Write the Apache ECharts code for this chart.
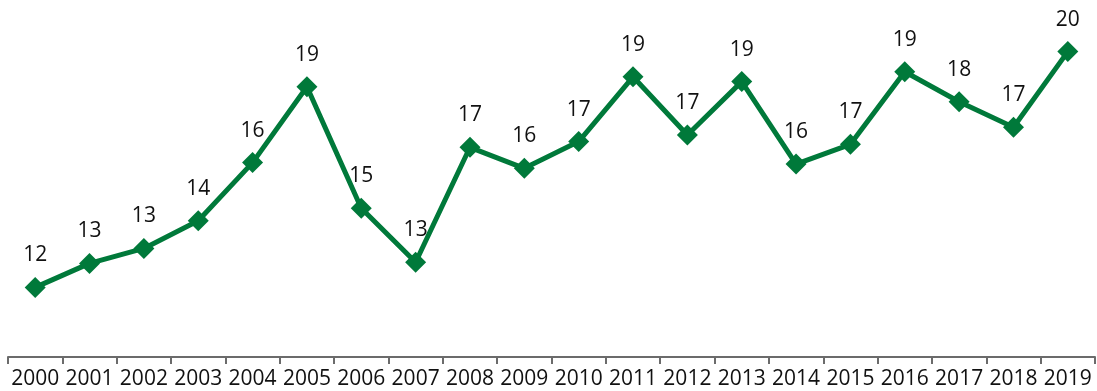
<!DOCTYPE html>
<html lang="en">
<head>
    <meta charset="UTF-8">
    <title>Line chart 2000-2019</title>
    <script src="https://cdn.jsdelivr.net/npm/echarts@6/dist/echarts.min.js"></script>
    <style>
        body {
            margin: 0;
            padding: 0;
            background: #ffffff;
        }
        #chart {
            width: 1097px;
            height: 391px;
        }
    </style>
</head>
<body>
    <div id="chart"></div>

<script>
    // Data (labels show the rounded values)
    const years = ['2000', '2001', '2002', '2003', '2004', '2005', '2006', '2007', '2008', '2009',
                   '2010', '2011', '2012', '2013', '2014', '2015', '2016', '2017', '2018', '2019'];
    const values = [12.12, 12.92, 13.42, 14.34, 16.28, 18.81, 14.76, 12.96, 16.79, 16.09,
                    16.98, 19.14, 17.2, 18.98, 16.23, 16.89, 19.31, 18.31, 17.46, 19.98];

    const green = '#00793a';
    const chart = echarts.init(document.getElementById('chart'));

    const options = {
        animation: false,
        grid: {
            left: 8,
            right: 2,
            top: 6,
            bottom: 34
        },
        xAxis: {
            type: 'category',
            data: years,
            boundaryGap: true,
            axisLine: {
                lineStyle: { color: '#6b6b6b', width: 2 }
            },
            axisTick: {
                show: true,
                length: 7,
                lineStyle: { color: '#6b6b6b', width: 2 }
            },
            axisLabel: {
                interval: 0,
                margin: 12,
                color: '#111111',
                fontFamily: 'Open Sans',
                fontSize: 21
            }
        },
        yAxis: {
            type: 'value',
            min: 9.8,
            max: 21.5,
            show: false,
            splitLine: { show: false }
        },
        series: [
            {
                type: 'line',
                data: values,
                symbol: 'diamond',
                symbolSize: 21,
                itemStyle: { color: green },
                lineStyle: { color: green, width: 5 },
                label: {
                    show: true,
                    position: 'top',
                    distance: 11,
                    color: '#111111',
                    fontFamily: 'Open Sans',
                    fontSize: 21,
                    formatter: function (p) {
                        return Math.round(p.value);
                    }
                }
            }
        ]
    };

    chart.setOption(options);
</script>
</body>
</html>
